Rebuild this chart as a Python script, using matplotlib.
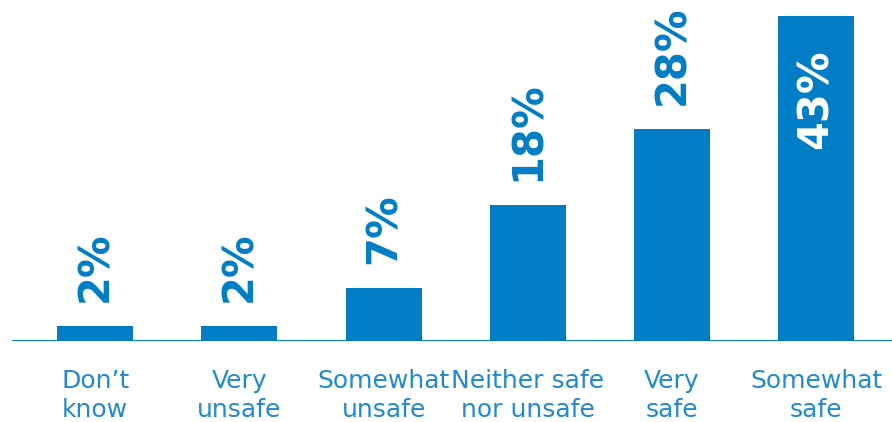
import numpy as np
import matplotlib.pyplot as plt
from matplotlib import transforms

# data
categories = ["Don\u2019t\nknow", "Very\nunsafe", "Somewhat\nunsafe",
              "Neither safe\nnor unsafe", "Very\nsafe", "Somewhat\nsafe"]
values = [2, 2, 7, 18, 28, 43]
labels = ["2%", "2%", "7%", "18%", "28%", "43%"]

blue = '#007dc5'
light_blue = '#2089d0'

fig = plt.figure(figsize=(8.92, 4.22), dpi=100)
ax = fig.add_axes([12/892, 81/422, 880/892, 341/422])

x = np.arange(len(values))
ax.bar(x, values, width=0.527, color=blue, zorder=2)
ax.axhline(0, color=blue, lw=1.5, zorder=3)

ax.set_xlim(-0.5775, 5.5265)
ax.set_ylim(0, 45.1)
ax.axis('off')

for i, (v, lab) in enumerate(zip(values, labels)):
    if i == len(values) - 1:
        # biggest bar gets its label inside in white
        ax.annotate(lab, (i, v), xytext=(0, -33*0.72), textcoords='offset points',
                    rotation=90, ha='center', va='top', color='white',
                    fontsize=30, fontweight='bold')
    else:
        ax.annotate(lab, (i, v), xytext=(0, 24*0.72), textcoords='offset points',
                    rotation=90, ha='center', va='bottom', color=blue,
                    fontsize=30, fontweight='bold')

trans = transforms.blended_transform_factory(ax.transData, fig.transFigure)
for i, cat in enumerate(categories):
    ax.text(i, (422 - 369)/422, cat, transform=trans, ha='center', va='top',
            color=light_blue, fontsize=18, family='DejaVu Sans',
            linespacing=1.27)

plt.savefig('out.png', dpi=100)
